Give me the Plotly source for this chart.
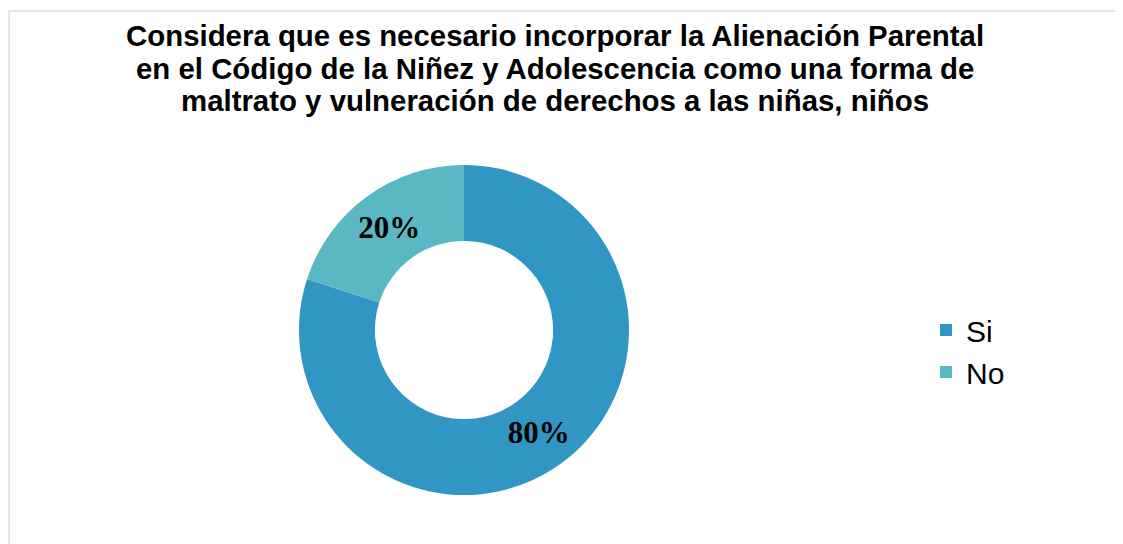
import plotly.graph_objects as go

labels = ["Si", "No"]
values = [80, 20]
text_labels = ["80%", "20%"]
colors = ["#3196c3", "#5ab8c4"]
title_lines = [
    "Considera que es necesario incorporar la Alienación Parental",
    "en el Código de la Niñez y Adolescencia como una forma de",
    "maltrato y vulneración de derechos a las niñas, niños",
]

W, H = 1123, 544
OFF = 8  # page body margin


def px(x):
    return (x - OFF) / W


def py(y):
    return 1 - (y - OFF) / H


fig = go.Figure()
fig.add_trace(go.Pie(
    labels=labels,
    values=values,
    text=["<b>%s</b>" % t for t in text_labels],
    textinfo="text",
    textposition="inside",
    insidetextorientation="horizontal",
    insidetextfont=dict(family="Liberation Serif, Times New Roman, serif", size=31, color="black"),
    textfont=dict(family="Liberation Serif, Times New Roman, serif", size=31, color="black"),
    marker=dict(colors=colors, line=dict(width=0)),
    hole=0.54,
    sort=False,
    direction="clockwise",
    rotation=0,
    domain=dict(x=[px(299), px(629)], y=[py(495), py(165)]),
    hoverinfo="label+percent",
))

annotations = []
for i, line in enumerate(title_lines):
    annotations.append(dict(
        text="<b>%s</b>" % line,
        xref="paper", yref="paper",
        x=px(555), y=py(35.5 + 32.5 * i),
        xanchor="center", yanchor="middle",
        showarrow=False,
        font=dict(family="Liberation Sans, Arial, sans-serif", size=29.4, color="black"),
    ))

fig.update_layout(
    width=W,
    height=H,
    margin=dict(l=0, r=0, t=0, b=0),
    paper_bgcolor="white",
    plot_bgcolor="white",
    uniformtext=dict(minsize=31, mode="show"),
    annotations=annotations,
    legend=dict(
        x=px(926),
        y=py(304),
        xanchor="left",
        yanchor="top",
        font=dict(family="Liberation Sans, Arial, sans-serif", size=30, color="black"),
        itemwidth=30,
        bgcolor="rgba(0,0,0,0)",
    ),
    shapes=[dict(
        type="rect", xref="paper", yref="paper",
        x0=0.001, x1=1.01, y0=-0.01, y1=py(11),
        line=dict(color="#d9d9e0", width=1.5),
        fillcolor="rgba(0,0,0,0)",
        layer="below",
    )],
)

fig.write_html("out.html")
